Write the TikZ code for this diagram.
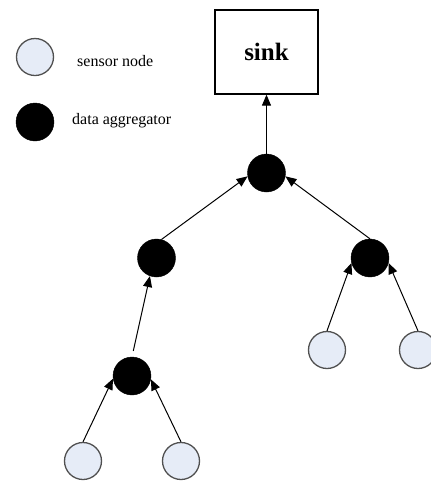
\documentclass[tikz,border=0pt]{standalone}
\usepackage{fontspec}
\setmainfont{Liberation Serif}
\usetikzlibrary{arrows.meta}
\definecolor{sensorfill}{HTML}{E6ECF7}
\definecolor{sensorline}{HTML}{505050}
\tikzset{
  sensor/.style={circle, draw=sensorline, line width=1.3pt, fill=sensorfill, minimum size=37pt, inner sep=0pt},
  aggr/.style={circle, draw=black, fill=black, minimum size=38pt, inner sep=0pt},
  sinkbox/.style={rectangle, draw=black, line width=1.3pt, minimum width=103pt, minimum height=84pt, inner sep=0pt, font=\fontsize{25}{29}\selectfont\bfseries},
  legendtext/.style={anchor=west, inner sep=0pt, font=\fontsize{16}{19}\selectfont},
  link/.style={line width=1pt, -{Triangle[length=11pt,width=9pt]}}
}
\begin{document}
\begin{tikzpicture}[x=1pt,y=-1pt]
\useasboundingbox (0,0) rectangle (431,483);
% legend
\node[sensor] (lgs) at (35,57) {};
\node[legendtext] (lgst) at (77,61) {sensor node};
\node[aggr] (lga) at (35,122) {};
\node[legendtext] (lgat) at (72,121) {data aggregator};
% tree
\node[sinkbox] (sink) at (266.5,52) {sink};
\node[aggr] (root) at (266.5,173) {};
\node[aggr] (la) at (156.5,258) {};
\node[aggr] (ra) at (370,258) {};
\node[aggr] (bla) at (132,376) {};
\node[sensor] (s1) at (83,461) {};
\node[sensor] (s2) at (181,461) {};
\node[sensor] (s3) at (327,350) {};
\node[sensor] (s4) at (418,350) {};
% links
\draw[link] (root.north) -- (sink.south);
\draw[link] (la.75) -- (root.190);
\draw[link] (ra.north) -- (root.350);
\draw[link, shorten <=6pt] (bla.north) -- (la.250);
\draw[link] (s3.north) -- (ra.195);
\draw[link] (s4.north) -- (ra.345);
\draw[link] (s1.north) -- (bla.188);
\draw[link] (s2.north) -- (bla.350);
\end{tikzpicture}
\end{document}
